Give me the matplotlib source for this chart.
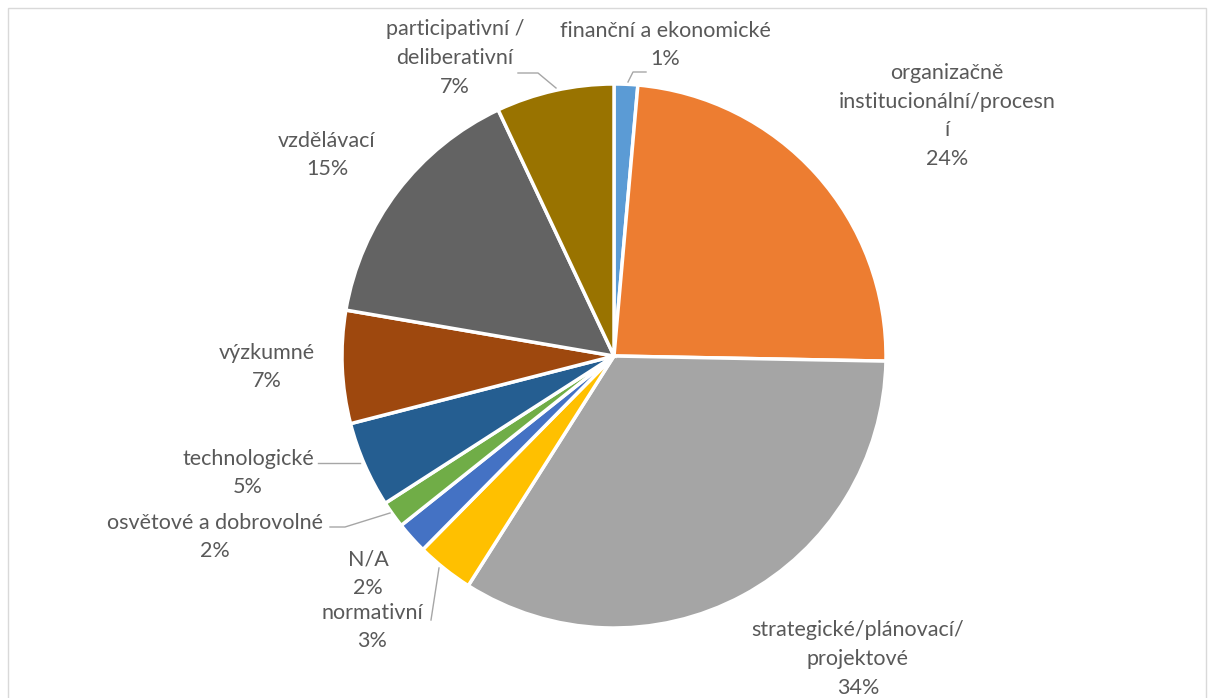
import matplotlib
matplotlib.use("Agg")
import matplotlib.pyplot as plt
from matplotlib.patches import Rectangle

names = ["finanční a ekonomické", "organizačně\ninstitucionální/procesn\ní",
         "strategické/plánovací/\nprojektové", "normativní", "N/A",
         "osvětové a dobrovolné", "technologické", "výzkumné", "vzdělávací",
         "participativní /\ndeliberativní"]
shares = [1.4, 23.9, 33.7, 3.4, 1.9, 1.6, 5.1, 6.7, 15.3, 7.0]
colors = ["#5B9BD5", "#ED7D31", "#A5A5A5", "#FFC000", "#4472C4",
          "#70AD47", "#255E91", "#9E480E", "#636363", "#997300"]

# label centres in pixels of the reference image
label_px = [(665, 45), (947, 116), (858, 659), (372, 627), (368, 574),
            (215, 537), (248, 473), (267, 367), (327, 155), (455, 58)]
# leader lines (pixel polylines), None = no line
leaders = [[(628, 82), (633, 72), (646, 72)],
           None, None,
           [(439, 568), (431, 620)],
           None,
           [(390, 513), (345, 527), (330, 527)],
           [(360, 463), (318, 463)],
           None, None,
           [(556, 88), (538, 73), (518, 73)]]

W, H = 1214, 698
cx, cy, r = 614, 356, 272

plt.rcParams['font.family'] = ['Lato', 'DejaVu Sans']
fig = plt.figure(figsize=(W / 100, H / 100), dpi=100)
fig.patches.append(Rectangle((8 / W, -0.1), (W - 16) / W, 1.1 - 8 / H, transform=fig.transFigure,
                             fill=False, edgecolor="#D9D9D9", linewidth=1))
ax = fig.add_axes([(cx - r) / W, (H - cy - r) / H, 2 * r / W, 2 * r / H])
ax.pie(shares, colors=colors, startangle=90, counterclock=False, radius=1,
       wedgeprops=dict(edgecolor="white", linewidth=2.5))
ax.set_xlim(-1, 1)
ax.set_ylim(-1, 1)
ax.axis("off")


def to_data(p):
    return (p[0] - cx) / r, (cy - p[1]) / r


for name, val, pos, ld in zip(names, shares, label_px, leaders):
    x, y = to_data(pos)
    ax.text(x, y, "{}\n{:.0f}%".format(name, val), ha="center", va="center",
            fontsize=15.5, color="#595959", linespacing=1.55, clip_on=False)
    if ld:
        pts = [to_data(p) for p in ld]
        ax.plot([p[0] for p in pts], [p[1] for p in pts], color="#A6A6A6",
                linewidth=1, clip_on=False)

fig.savefig("out.png", dpi=100)
